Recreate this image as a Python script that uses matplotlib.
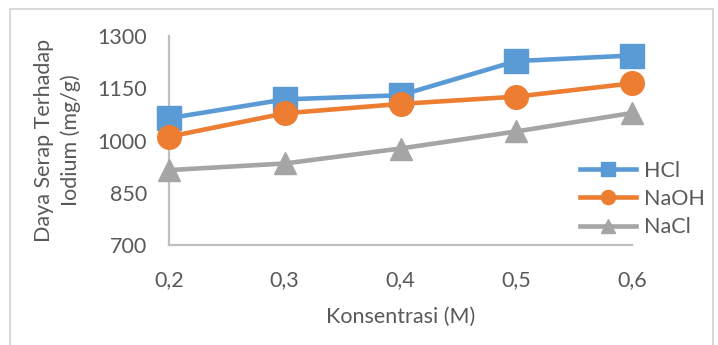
import matplotlib.pyplot as plt
from matplotlib.patches import Rectangle

konsentrasi = [0.2, 0.3, 0.4, 0.5, 0.6]
x_labels = ['0,2', '0,3', '0,4', '0,5', '0,6']
hcl = [1064, 1118, 1130, 1228, 1244]
naoh = [1011, 1078, 1105, 1126, 1164]
nacl = [915, 934, 977, 1026, 1079]
y_ticks = [700, 850, 1000, 1150, 1300]

plt.rcParams['font.family'] = ['Lato', 'DejaVu Sans']
text_color = '#595959'

fig = plt.figure(figsize=(7.18, 3.45), dpi=100)
# kotak luar di sekeliling grafik
fig.patches.append(Rectangle((10 / 718, -0.05), 703 / 718, 1.05 - 9 / 345,
                             transform=fig.transFigure, fill=False,
                             edgecolor='#d9d9d9', lw=1.5))

ax = fig.add_axes([169 / 718, 1 - 245 / 345, (632 - 169) / 718, (245 - 36) / 345])

ax.plot(konsentrasi, hcl, color='#5b9bd5', lw=3.3, marker='s', ms=17, label='HCl', zorder=3)
ax.plot(konsentrasi, naoh, color='#ed7d31', lw=3.3, marker='o', ms=17, label='NaOH', zorder=3)
ax.plot(konsentrasi, nacl, color='#a5a5a5', lw=3.3, marker='^', ms=16, label='NaCl', zorder=3)

ax.set_xlim(0.2, 0.6)
ax.set_ylim(700, 1300)
ax.set_xticks(konsentrasi)
ax.set_xticklabels(x_labels)
ax.set_yticks(y_ticks)
ax.tick_params(length=0, labelsize=15.5, colors=text_color)
ax.tick_params(axis='y', pad=16)
ax.tick_params(axis='x', pad=18)

for side in ['top', 'right']:
    ax.spines[side].set_visible(False)
for side in ['left', 'bottom']:
    ax.spines[side].set_color('#bfbfbf')
    ax.spines[side].set_linewidth(1.6)
for line in ax.lines:
    line.set_clip_on(False)

ax.set_xlabel('Konsentrasi (M)', fontsize=15.5, color=text_color, labelpad=12)
ax.set_ylabel('Daya Serap Terhadap\nIodium (mg/g)', fontsize=15.5, color=text_color,
              linespacing=1.4, va='center')
ax.yaxis.set_label_coords(-0.24, 0.5)

leg = ax.legend(loc='center left', bbox_to_anchor=(0.87, 0.22), frameon=False,
                fontsize=15.5, handlelength=2.6, markerscale=0.6,
                labelspacing=0.38, handletextpad=0.35, borderaxespad=0)
for t in leg.get_texts():
    t.set_color(text_color)

fig.savefig('out.png', dpi=100)
